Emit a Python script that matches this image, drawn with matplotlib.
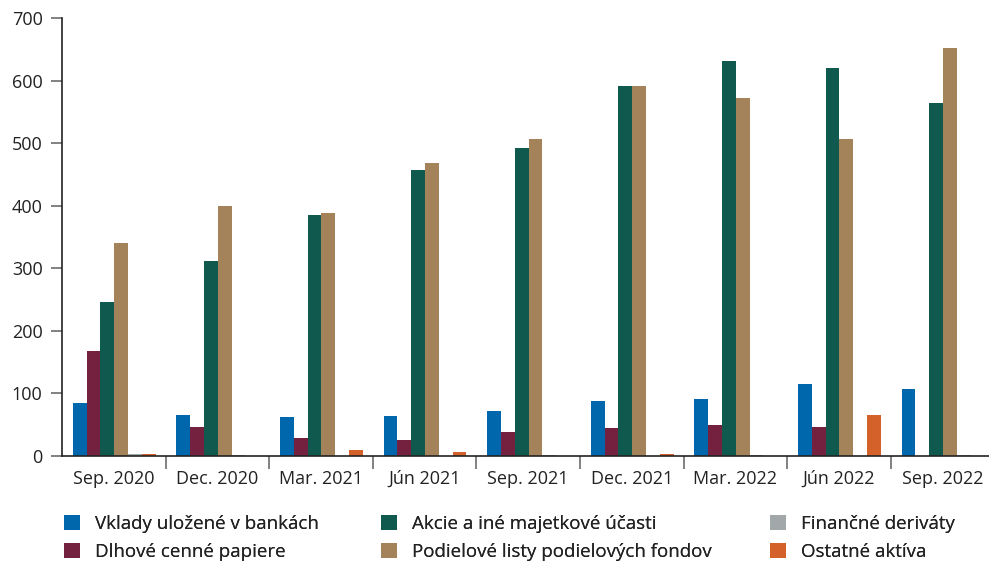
import matplotlib
matplotlib.use("Agg")
import matplotlib.pyplot as plt
import numpy as np

# quarters on the x axis
quarters = ["Sep. 2020", "Dec. 2020", "Mar. 2021", "Jún 2021", "Sep. 2021",
            "Dec. 2021", "Mar. 2022", "Jún 2022", "Sep. 2022"]

# series values
vklady = [84, 66, 63, 64, 72, 88, 91, 115, 107]
dlhove = [168, 47, 28, 26, 38, 44, 49, 46, 0]
akcie = [246, 311, 385, 457, 492, 592, 632, 620, 564]
podielove = [340, 400, 389, 468, 506, 592, 572, 506, 652]
derivaty = [3, 1, 0, 0, 1, 0, 1, 0, 1]
ostatne = [3, 0, 10, 6, 0, 3, 0, 65, 0.5]

names = ["Vklady uložené v bankách", "Dlhové cenné papiere",
         "Akcie a iné majetkové účasti", "Podielové listy podielových fondov",
         "Finančné deriváty", "Ostatné aktíva"]
colors = ["#0067ac", "#74213f", "#10594e", "#a5835a", "#a2a7a9", "#d4612a"]
series = [vklady, dlhove, akcie, podielove, derivaty, ostatne]

plt.rcParams["font.family"] = ["Open Sans", "DejaVu Sans"]
plt.rcParams["font.size"] = 13
plt.rcParams["text.color"] = "#222222"

W, H = 989, 561
fig = plt.figure(figsize=(W / 100, H / 100), dpi=100)
# axes placed in pixels (x0=62, y0=456 from top), right edge runs off the figure
ax = fig.add_axes([62 / W, (H - 456) / H, 9 * 103.6 / W, (456 - 18) / H])

x = np.arange(len(quarters))
bw = 0.133
off = 0.105
handles = []
for k in range(len(series)):
    b = ax.bar(x + off + k * bw, series[k], width=bw, align="edge",
               color=colors[k], label=names[k], linewidth=0)
    handles.append(b)

ax.set_xlim(0, len(quarters))
ax.set_ylim(0, 700)
ax.set_yticks(range(0, 701, 100))

# labels in the middle of each group, tick marks between groups
ax.set_xticks(x + 0.5)
ax.set_xticklabels(quarters)
ax.set_xticks(np.arange(1, len(quarters)), minor=True)
ax.tick_params(axis="x", which="major", length=0, pad=10, colors="#222222")
ax.tick_params(axis="x", which="minor", length=9, width=1.3, color="#777777")
ax.tick_params(axis="y", length=8, width=1.3, color="#777777", pad=6,
               labelcolor="#222222")

for s in ["top", "right"]:
    ax.spines[s].set_visible(False)
for s in ["left", "bottom"]:
    ax.spines[s].set_color("#222222")
    ax.spines[s].set_linewidth(1.2)

# legend in three columns, two rows each
cols = [(0, 1, 64), (2, 3, 381), (4, 5, 770)]
for a, b, px in cols:
    leg = fig.legend([handles[a], handles[b]], [names[a], names[b]],
                     loc="upper left", bbox_to_anchor=(px / W, 1 - 515 / H),
                     frameon=False, handlelength=0.85, handleheight=0.85,
                     handletextpad=0.8, labelspacing=0.55, borderpad=0,
                     borderaxespad=0, fontsize=13.5)
    fig.add_artist(leg)

fig.savefig("out.png", dpi=100)
